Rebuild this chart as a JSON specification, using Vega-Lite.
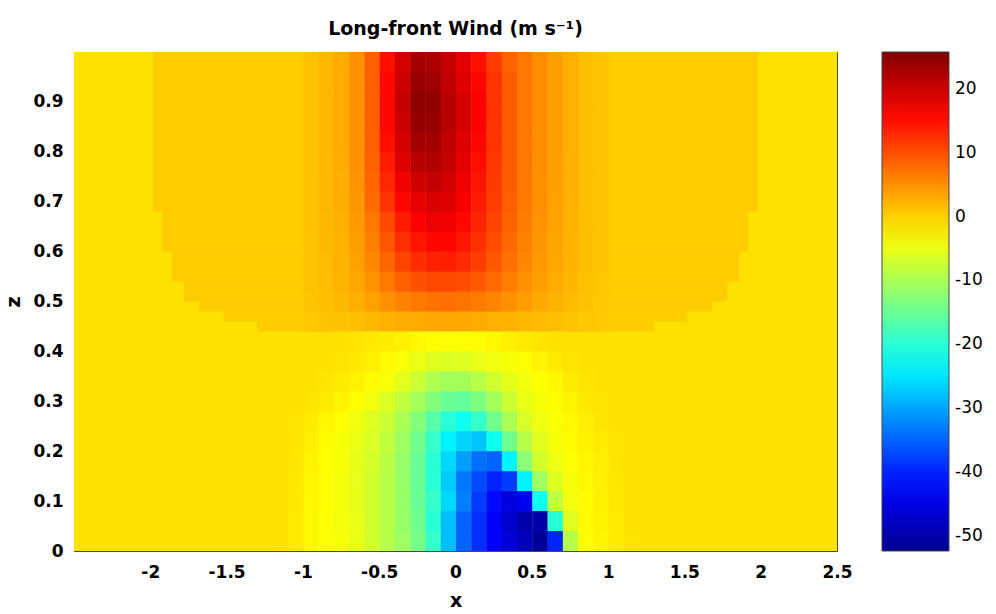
{
"$schema": "https://vega.github.io/schema/vega-lite/v6.json",
"autosize": {"type": "none"},
"padding": {"left": 74, "top": 52, "right": 159, "bottom": 63},
"width": 763,
"height": 499,
"background": "white",
"title": {"text": "Long-front Wind (m s⁻¹)", "font": "DejaVu Sans", "fontSize": 19, "fontWeight": "bold", "color": "#000", "anchor": "middle", "offset": -2, "baseline": "alphabetic"},
"config": {
 "view": {"stroke": "#4d4d33", "strokeWidth": 1},
 "axis": {"grid": false, "ticks": false, "tickSize": 0, "domain": false, "labelFlush": false, "labelOverlap": false, "labelFont": "DejaVu Sans", "labelFontSize": 17, "labelFontWeight": "bold", "labelColor": "#000", "titleFont": "DejaVu Sans", "titleFontSize": 19, "titleFontWeight": "bold", "titleColor": "#000"},
 "axisX": {"labelPadding": 13, "titlePadding": 11},
 "axisY": {"labelPadding": 11, "titlePadding": 9}
},
"datasets": {
"bg": [
{"x1":-2.5,"x2":2.5,"z1":0,"z2":1,"v":-1.2},
{"x1":-1.98,"x2":1.98,"z1":0.68,"z2":1,"v":0.4},
{"x1":-1.92,"x2":1.92,"z1":0.6,"z2":0.68,"v":0.4},
{"x1":-1.86,"x2":1.86,"z1":0.54,"z2":0.6,"v":0.4},
{"x1":-1.78,"x2":1.78,"z1":0.5,"z2":0.54,"v":0.4},
{"x1":-1.68,"x2":1.68,"z1":0.48,"z2":0.5,"v":0.4},
{"x1":-1.52,"x2":1.52,"z1":0.46,"z2":0.48,"v":0.4},
{"x1":-1.3,"x2":1.3,"z1":0.44,"z2":0.46,"v":0.4}
],
"cells": [
{"x":-1,"z":0.96,"v":1.2},{"x":-0.9,"z":0.96,"v":2},{"x":-0.8,"z":0.96,"v":3},{"x":-0.7,"z":0.96,"v":5},{"x":-0.6,"z":0.96,"v":8.8},{"x":-0.5,"z":0.96,"v":15},{"x":-0.4,"z":0.96,"v":19.5},{"x":-0.3,"z":0.96,"v":23},{"x":-0.2,"z":0.96,"v":22.5},{"x":-0.1,"z":0.96,"v":20.5},{"x":0,"z":0.96,"v":18},{"x":0.1,"z":0.96,"v":15},{"x":0.2,"z":0.96,"v":11.5},{"x":0.3,"z":0.96,"v":8.5},{"x":0.4,"z":0.96,"v":7},{"x":0.5,"z":0.96,"v":5.2},{"x":0.6,"z":0.96,"v":3.9},{"x":0.7,"z":0.96,"v":2.6},{"x":0.8,"z":0.96,"v":1.5},{"x":0.9,"z":0.96,"v":0.9},
{"x":-1,"z":0.92,"v":1.2},{"x":-0.9,"z":0.92,"v":2},{"x":-0.8,"z":0.92,"v":3},{"x":-0.7,"z":0.92,"v":5},{"x":-0.6,"z":0.92,"v":8.8},{"x":-0.5,"z":0.92,"v":15.5},{"x":-0.4,"z":0.92,"v":20},{"x":-0.3,"z":0.92,"v":24},{"x":-0.2,"z":0.92,"v":23.5},{"x":-0.1,"z":0.92,"v":21},{"x":0,"z":0.92,"v":18.5},{"x":0.1,"z":0.92,"v":15.5},{"x":0.2,"z":0.92,"v":12},{"x":0.3,"z":0.92,"v":9},{"x":0.4,"z":0.92,"v":7},{"x":0.5,"z":0.92,"v":5.2},{"x":0.6,"z":0.92,"v":3.9},{"x":0.7,"z":0.92,"v":2.6},{"x":0.8,"z":0.92,"v":1.5},{"x":0.9,"z":0.92,"v":0.9},
{"x":-1,"z":0.88,"v":1.2},{"x":-0.9,"z":0.88,"v":2},{"x":-0.8,"z":0.88,"v":3},{"x":-0.7,"z":0.88,"v":5},{"x":-0.6,"z":0.88,"v":8.8},{"x":-0.5,"z":0.88,"v":15.5},{"x":-0.4,"z":0.88,"v":20.5},{"x":-0.3,"z":0.88,"v":24.8},{"x":-0.2,"z":0.88,"v":24.3},{"x":-0.1,"z":0.88,"v":21.5},{"x":0,"z":0.88,"v":19},{"x":0.1,"z":0.88,"v":16},{"x":0.2,"z":0.88,"v":12},{"x":0.3,"z":0.88,"v":9},{"x":0.4,"z":0.88,"v":7},{"x":0.5,"z":0.88,"v":5.2},{"x":0.6,"z":0.88,"v":3.9},{"x":0.7,"z":0.88,"v":2.6},{"x":0.8,"z":0.88,"v":1.5},{"x":0.9,"z":0.88,"v":0.9},
{"x":-1,"z":0.84,"v":1.2},{"x":-0.9,"z":0.84,"v":2},{"x":-0.8,"z":0.84,"v":3},{"x":-0.7,"z":0.84,"v":5},{"x":-0.6,"z":0.84,"v":8.8},{"x":-0.5,"z":0.84,"v":15.5},{"x":-0.4,"z":0.84,"v":20},{"x":-0.3,"z":0.84,"v":24.3},{"x":-0.2,"z":0.84,"v":24},{"x":-0.1,"z":0.84,"v":21.5},{"x":0,"z":0.84,"v":19},{"x":0.1,"z":0.84,"v":16},{"x":0.2,"z":0.84,"v":12},{"x":0.3,"z":0.84,"v":9},{"x":0.4,"z":0.84,"v":7},{"x":0.5,"z":0.84,"v":5.2},{"x":0.6,"z":0.84,"v":3.9},{"x":0.7,"z":0.84,"v":2.6},{"x":0.8,"z":0.84,"v":1.5},{"x":0.9,"z":0.84,"v":0.9},
{"x":-1,"z":0.8,"v":1.2},{"x":-0.9,"z":0.8,"v":2},{"x":-0.8,"z":0.8,"v":3},{"x":-0.7,"z":0.8,"v":5},{"x":-0.6,"z":0.8,"v":8.8},{"x":-0.5,"z":0.8,"v":15},{"x":-0.4,"z":0.8,"v":19.5},{"x":-0.3,"z":0.8,"v":23},{"x":-0.2,"z":0.8,"v":23},{"x":-0.1,"z":0.8,"v":21},{"x":0,"z":0.8,"v":18.5},{"x":0.1,"z":0.8,"v":15.5},{"x":0.2,"z":0.8,"v":12},{"x":0.3,"z":0.8,"v":9},{"x":0.4,"z":0.8,"v":7},{"x":0.5,"z":0.8,"v":5.2},{"x":0.6,"z":0.8,"v":3.9},{"x":0.7,"z":0.8,"v":2.6},{"x":0.8,"z":0.8,"v":1.5},{"x":0.9,"z":0.8,"v":0.9},
{"x":-1,"z":0.76,"v":1.2},{"x":-0.9,"z":0.76,"v":2},{"x":-0.8,"z":0.76,"v":2.9},{"x":-0.7,"z":0.76,"v":5},{"x":-0.6,"z":0.76,"v":8.5},{"x":-0.5,"z":0.76,"v":14},{"x":-0.4,"z":0.76,"v":18.5},{"x":-0.3,"z":0.76,"v":21.5},{"x":-0.2,"z":0.76,"v":22},{"x":-0.1,"z":0.76,"v":20.5},{"x":0,"z":0.76,"v":18},{"x":0.1,"z":0.76,"v":15},{"x":0.2,"z":0.76,"v":11.8},{"x":0.3,"z":0.76,"v":9},{"x":0.4,"z":0.76,"v":6.9},{"x":0.5,"z":0.76,"v":5.1},{"x":0.6,"z":0.76,"v":3.8},{"x":0.7,"z":0.76,"v":2.6},{"x":0.8,"z":0.76,"v":1.5},{"x":0.9,"z":0.76,"v":0.9},
{"x":-1,"z":0.72,"v":1.2},{"x":-0.9,"z":0.72,"v":1.9},{"x":-0.8,"z":0.72,"v":2.8},{"x":-0.7,"z":0.72,"v":4.7},{"x":-0.6,"z":0.72,"v":8.2},{"x":-0.5,"z":0.72,"v":13},{"x":-0.4,"z":0.72,"v":17},{"x":-0.3,"z":0.72,"v":19.8},{"x":-0.2,"z":0.72,"v":20.5},{"x":-0.1,"z":0.72,"v":19.5},{"x":0,"z":0.72,"v":17},{"x":0.1,"z":0.72,"v":14.5},{"x":0.2,"z":0.72,"v":11.6},{"x":0.3,"z":0.72,"v":9},{"x":0.4,"z":0.72,"v":6.9},{"x":0.5,"z":0.72,"v":5},{"x":0.6,"z":0.72,"v":3.8},{"x":0.7,"z":0.72,"v":2.6},{"x":0.8,"z":0.72,"v":1.5},{"x":0.9,"z":0.72,"v":0.9},
{"x":-1,"z":0.68,"v":1.2},{"x":-0.9,"z":0.68,"v":1.9},{"x":-0.8,"z":0.68,"v":2.7},{"x":-0.7,"z":0.68,"v":4.5},{"x":-0.6,"z":0.68,"v":7.8},{"x":-0.5,"z":0.68,"v":12},{"x":-0.4,"z":0.68,"v":15.5},{"x":-0.3,"z":0.68,"v":17.8},{"x":-0.2,"z":0.68,"v":18.8},{"x":-0.1,"z":0.68,"v":18.3},{"x":0,"z":0.68,"v":16.5},{"x":0.1,"z":0.68,"v":14},{"x":0.2,"z":0.68,"v":11.3},{"x":0.3,"z":0.68,"v":8.8},{"x":0.4,"z":0.68,"v":6.8},{"x":0.5,"z":0.68,"v":5},{"x":0.6,"z":0.68,"v":3.7},{"x":0.7,"z":0.68,"v":2.6},{"x":0.8,"z":0.68,"v":1.5},{"x":0.9,"z":0.68,"v":0.9},
{"x":-1,"z":0.64,"v":1.2},{"x":-0.9,"z":0.64,"v":1.8},{"x":-0.8,"z":0.64,"v":2.6},{"x":-0.7,"z":0.64,"v":4.2},{"x":-0.6,"z":0.64,"v":7},{"x":-0.5,"z":0.64,"v":10.5},{"x":-0.4,"z":0.64,"v":14},{"x":-0.3,"z":0.64,"v":16.3},{"x":-0.2,"z":0.64,"v":17.3},{"x":-0.1,"z":0.64,"v":17},{"x":0,"z":0.64,"v":15.5},{"x":0.1,"z":0.64,"v":13.3},{"x":0.2,"z":0.64,"v":10.8},{"x":0.3,"z":0.64,"v":8.4},{"x":0.4,"z":0.64,"v":6.5},{"x":0.5,"z":0.64,"v":4.8},{"x":0.6,"z":0.64,"v":3.6},{"x":0.7,"z":0.64,"v":2.5},{"x":0.8,"z":0.64,"v":1.5},{"x":0.9,"z":0.64,"v":0.9},
{"x":-1,"z":0.6,"v":1.1},{"x":-0.9,"z":0.6,"v":1.8},{"x":-0.8,"z":0.6,"v":2.5},{"x":-0.7,"z":0.6,"v":3.9},{"x":-0.6,"z":0.6,"v":6.3},{"x":-0.5,"z":0.6,"v":9.5},{"x":-0.4,"z":0.6,"v":12.5},{"x":-0.3,"z":0.6,"v":14.5},{"x":-0.2,"z":0.6,"v":15.5},{"x":-0.1,"z":0.6,"v":15.5},{"x":0,"z":0.6,"v":14.3},{"x":0.1,"z":0.6,"v":12.4},{"x":0.2,"z":0.6,"v":10.1},{"x":0.3,"z":0.6,"v":8},{"x":0.4,"z":0.6,"v":6.1},{"x":0.5,"z":0.6,"v":4.6},{"x":0.6,"z":0.6,"v":3.4},{"x":0.7,"z":0.6,"v":2.4},{"x":0.8,"z":0.6,"v":1.4},{"x":0.9,"z":0.6,"v":0.9},
{"x":-1,"z":0.56,"v":1.1},{"x":-0.9,"z":0.56,"v":1.7},{"x":-0.8,"z":0.56,"v":2.4},{"x":-0.7,"z":0.56,"v":3.6},{"x":-0.6,"z":0.56,"v":5.6},{"x":-0.5,"z":0.56,"v":8.3},{"x":-0.4,"z":0.56,"v":10.8},{"x":-0.3,"z":0.56,"v":12.6},{"x":-0.2,"z":0.56,"v":13.5},{"x":-0.1,"z":0.56,"v":13.6},{"x":0,"z":0.56,"v":12.8},{"x":0.1,"z":0.56,"v":11.3},{"x":0.2,"z":0.56,"v":9.3},{"x":0.3,"z":0.56,"v":7.4},{"x":0.4,"z":0.56,"v":5.7},{"x":0.5,"z":0.56,"v":4.3},{"x":0.6,"z":0.56,"v":3.2},{"x":0.7,"z":0.56,"v":2.3},{"x":0.8,"z":0.56,"v":1.4},{"x":0.9,"z":0.56,"v":0.9},
{"x":-1,"z":0.52,"v":1},{"x":-0.9,"z":0.52,"v":1.6},{"x":-0.8,"z":0.52,"v":2.2},{"x":-0.7,"z":0.52,"v":3.2},{"x":-0.6,"z":0.52,"v":4.8},{"x":-0.5,"z":0.52,"v":6.8},{"x":-0.4,"z":0.52,"v":8.6},{"x":-0.3,"z":0.52,"v":9.9},{"x":-0.2,"z":0.52,"v":10.5},{"x":-0.1,"z":0.52,"v":10.6},{"x":0,"z":0.52,"v":10.1},{"x":0.1,"z":0.52,"v":9.2},{"x":0.2,"z":0.52,"v":7.8},{"x":0.3,"z":0.52,"v":6.4},{"x":0.4,"z":0.52,"v":5},{"x":0.5,"z":0.52,"v":3.9},{"x":0.6,"z":0.52,"v":2.9},{"x":0.7,"z":0.52,"v":2.1},{"x":0.8,"z":0.52,"v":1.3},{"x":0.9,"z":0.52,"v":0.8},
{"x":-1,"z":0.48,"v":0.9},{"x":-0.9,"z":0.48,"v":1.4},{"x":-0.8,"z":0.48,"v":1.9},{"x":-0.7,"z":0.48,"v":2.6},{"x":-0.6,"z":0.48,"v":3.7},{"x":-0.5,"z":0.48,"v":4.9},{"x":-0.4,"z":0.48,"v":6},{"x":-0.3,"z":0.48,"v":6.8},{"x":-0.2,"z":0.48,"v":7.3},{"x":-0.1,"z":0.48,"v":7.4},{"x":0,"z":0.48,"v":7.2},{"x":0.1,"z":0.48,"v":6.7},{"x":0.2,"z":0.48,"v":5.9},{"x":0.3,"z":0.48,"v":5},{"x":0.4,"z":0.48,"v":4},{"x":0.5,"z":0.48,"v":3.1},{"x":0.6,"z":0.48,"v":2.4},{"x":0.7,"z":0.48,"v":1.7},{"x":0.8,"z":0.48,"v":1.2},{"x":0.9,"z":0.48,"v":0.7},
{"x":-1,"z":0.44,"v":0.6},{"x":-0.9,"z":0.44,"v":0.9},{"x":-0.8,"z":0.44,"v":1.2},{"x":-0.7,"z":0.44,"v":1.5},{"x":-0.6,"z":0.44,"v":1.9},{"x":-0.5,"z":0.44,"v":2.3},{"x":-0.4,"z":0.44,"v":2.7},{"x":-0.3,"z":0.44,"v":3},{"x":-0.2,"z":0.44,"v":3.2},{"x":-0.1,"z":0.44,"v":3.2},{"x":0,"z":0.44,"v":3.1},{"x":0.1,"z":0.44,"v":2.9},{"x":0.2,"z":0.44,"v":2.6},{"x":0.3,"z":0.44,"v":2.3},{"x":0.4,"z":0.44,"v":2},{"x":0.5,"z":0.44,"v":1.7},{"x":0.6,"z":0.44,"v":1.4},{"x":0.7,"z":0.44,"v":1.1},{"x":0.8,"z":0.44,"v":0.8},{"x":0.9,"z":0.44,"v":0.5},
{"x":-0.8,"z":0.4,"v":-1.3},{"x":-0.7,"z":0.4,"v":-1.5},{"x":-0.6,"z":0.4,"v":-1.8},{"x":-0.5,"z":0.4,"v":-2.1},{"x":-0.4,"z":0.4,"v":-2.4},{"x":-0.3,"z":0.4,"v":-3},{"x":-0.2,"z":0.4,"v":-3.5},{"x":-0.1,"z":0.4,"v":-3.7},{"x":0,"z":0.4,"v":-3.7},{"x":0.1,"z":0.4,"v":-3.4},{"x":0.2,"z":0.4,"v":-2.9},{"x":0.3,"z":0.4,"v":-2.4},{"x":0.4,"z":0.4,"v":-1.9},{"x":0.5,"z":0.4,"v":-1.5},{"x":0.6,"z":0.4,"v":-1.3},
{"x":-0.9,"z":0.36,"v":-1.3},{"x":-0.8,"z":0.36,"v":-1.4},{"x":-0.7,"z":0.36,"v":-1.8},{"x":-0.6,"z":0.36,"v":-2.4},{"x":-0.5,"z":0.36,"v":-3.2},{"x":-0.4,"z":0.36,"v":-4},{"x":-0.3,"z":0.36,"v":-5},{"x":-0.2,"z":0.36,"v":-5.8},{"x":-0.1,"z":0.36,"v":-6.2},{"x":0,"z":0.36,"v":-6},{"x":0.1,"z":0.36,"v":-5.3},{"x":0.2,"z":0.36,"v":-4.6},{"x":0.3,"z":0.36,"v":-4.2},{"x":0.4,"z":0.36,"v":-3.4},{"x":0.5,"z":0.36,"v":-2.6},{"x":0.6,"z":0.36,"v":-1.9},{"x":0.7,"z":0.36,"v":-1.4},
{"x":-1,"z":0.32,"v":-1.3},{"x":-0.9,"z":0.32,"v":-1.6},{"x":-0.8,"z":0.32,"v":-2},{"x":-0.7,"z":0.32,"v":-2.6},{"x":-0.6,"z":0.32,"v":-3.2},{"x":-0.5,"z":0.32,"v":-4},{"x":-0.4,"z":0.32,"v":-5.5},{"x":-0.3,"z":0.32,"v":-7.5},{"x":-0.2,"z":0.32,"v":-9.5},{"x":-0.1,"z":0.32,"v":-10.5},{"x":0,"z":0.32,"v":-10.5},{"x":0.1,"z":0.32,"v":-9},{"x":0.2,"z":0.32,"v":-7},{"x":0.3,"z":0.32,"v":-5.4},{"x":0.4,"z":0.32,"v":-4.4},{"x":0.5,"z":0.32,"v":-3.6},{"x":0.6,"z":0.32,"v":-2.8},{"x":0.7,"z":0.32,"v":-2},{"x":0.8,"z":0.32,"v":-1.4},
{"x":-1.1,"z":0.28,"v":-1.3},{"x":-1,"z":0.28,"v":-1.6},{"x":-0.9,"z":0.28,"v":-2},{"x":-0.8,"z":0.28,"v":-2.6},{"x":-0.7,"z":0.28,"v":-3.4},{"x":-0.6,"z":0.28,"v":-4.6},{"x":-0.5,"z":0.28,"v":-6.3},{"x":-0.4,"z":0.28,"v":-8.3},{"x":-0.3,"z":0.28,"v":-10.5},{"x":-0.2,"z":0.28,"v":-13},{"x":-0.1,"z":0.28,"v":-15},{"x":0,"z":0.28,"v":-15.5},{"x":0.1,"z":0.28,"v":-13.5},{"x":0.2,"z":0.28,"v":-10.5},{"x":0.3,"z":0.28,"v":-7.5},{"x":0.4,"z":0.28,"v":-5.2},{"x":0.5,"z":0.28,"v":-4.2},{"x":0.6,"z":0.28,"v":-3.4},{"x":0.7,"z":0.28,"v":-2.6},{"x":0.8,"z":0.28,"v":-1.8},{"x":0.9,"z":0.28,"v":-1.4},
{"x":-1.1,"z":0.24,"v":-1.4},{"x":-1,"z":0.24,"v":-2},{"x":-0.9,"z":0.24,"v":-2.8},{"x":-0.8,"z":0.24,"v":-3.5},{"x":-0.7,"z":0.24,"v":-4.6},{"x":-0.6,"z":0.24,"v":-6},{"x":-0.5,"z":0.24,"v":-7.6},{"x":-0.4,"z":0.24,"v":-10},{"x":-0.3,"z":0.24,"v":-13},{"x":-0.2,"z":0.24,"v":-16.5},{"x":-0.1,"z":0.24,"v":-20},{"x":0,"z":0.24,"v":-22},{"x":0.1,"z":0.24,"v":-19},{"x":0.2,"z":0.24,"v":-14.5},{"x":0.3,"z":0.24,"v":-10},{"x":0.4,"z":0.24,"v":-6.5},{"x":0.5,"z":0.24,"v":-4.8},{"x":0.6,"z":0.24,"v":-3.8},{"x":0.7,"z":0.24,"v":-3},{"x":0.8,"z":0.24,"v":-2.2},{"x":0.9,"z":0.24,"v":-1.6},{"x":1,"z":0.24,"v":-1.3},
{"x":-1.1,"z":0.2,"v":-1.6},{"x":-1,"z":0.2,"v":-2.3},{"x":-0.9,"z":0.2,"v":-3.3},{"x":-0.8,"z":0.2,"v":-4.1},{"x":-0.7,"z":0.2,"v":-5.2},{"x":-0.6,"z":0.2,"v":-6.5},{"x":-0.5,"z":0.2,"v":-8.3},{"x":-0.4,"z":0.2,"v":-11},{"x":-0.3,"z":0.2,"v":-14.5},{"x":-0.2,"z":0.2,"v":-19},{"x":-0.1,"z":0.2,"v":-24},{"x":0,"z":0.2,"v":-26.5},{"x":0.1,"z":0.2,"v":-27.5},{"x":0.2,"z":0.2,"v":-22},{"x":0.3,"z":0.2,"v":-14.5},{"x":0.4,"z":0.2,"v":-9},{"x":0.5,"z":0.2,"v":-5.8},{"x":0.6,"z":0.2,"v":-4.3},{"x":0.7,"z":0.2,"v":-3.3},{"x":0.8,"z":0.2,"v":-2.5},{"x":0.9,"z":0.2,"v":-1.9},{"x":1,"z":0.2,"v":-1.4},
{"x":-1.2,"z":0.16,"v":-1.3},{"x":-1.1,"z":0.16,"v":-1.7},{"x":-1,"z":0.16,"v":-2.6},{"x":-0.9,"z":0.16,"v":-3.5},{"x":-0.8,"z":0.16,"v":-4.3},{"x":-0.7,"z":0.16,"v":-5.4},{"x":-0.6,"z":0.16,"v":-6.8},{"x":-0.5,"z":0.16,"v":-8.8},{"x":-0.4,"z":0.16,"v":-11.5},{"x":-0.3,"z":0.16,"v":-15},{"x":-0.2,"z":0.16,"v":-20},{"x":-0.1,"z":0.16,"v":-26},{"x":0,"z":0.16,"v":-30.5},{"x":0.1,"z":0.16,"v":-34},{"x":0.2,"z":0.16,"v":-35},{"x":0.3,"z":0.16,"v":-24},{"x":0.4,"z":0.16,"v":-12.5},{"x":0.5,"z":0.16,"v":-7},{"x":0.6,"z":0.16,"v":-4.8},{"x":0.7,"z":0.16,"v":-3.6},{"x":0.8,"z":0.16,"v":-2.8},{"x":0.9,"z":0.16,"v":-2.2},{"x":1,"z":0.16,"v":-1.6},{"x":1.1,"z":0.16,"v":-1.3},
{"x":-1.2,"z":0.12,"v":-1.3},{"x":-1.1,"z":0.12,"v":-1.8},{"x":-1,"z":0.12,"v":-2.8},{"x":-0.9,"z":0.12,"v":-3.6},{"x":-0.8,"z":0.12,"v":-4.4},{"x":-0.7,"z":0.12,"v":-5.5},{"x":-0.6,"z":0.12,"v":-7},{"x":-0.5,"z":0.12,"v":-9},{"x":-0.4,"z":0.12,"v":-11.5},{"x":-0.3,"z":0.12,"v":-15},{"x":-0.2,"z":0.12,"v":-20},{"x":-0.1,"z":0.12,"v":-27},{"x":0,"z":0.12,"v":-33.5},{"x":0.1,"z":0.12,"v":-37},{"x":0.2,"z":0.12,"v":-40},{"x":0.3,"z":0.12,"v":-38},{"x":0.4,"z":0.12,"v":-24},{"x":0.5,"z":0.12,"v":-11},{"x":0.6,"z":0.12,"v":-6},{"x":0.7,"z":0.12,"v":-4.1},{"x":0.8,"z":0.12,"v":-3},{"x":0.9,"z":0.12,"v":-2.3},{"x":1,"z":0.12,"v":-1.7},{"x":1.1,"z":0.12,"v":-1.3},
{"x":-1.2,"z":0.08,"v":-1.3},{"x":-1.1,"z":0.08,"v":-1.8},{"x":-1,"z":0.08,"v":-2.9},{"x":-0.9,"z":0.08,"v":-3.6},{"x":-0.8,"z":0.08,"v":-4.4},{"x":-0.7,"z":0.08,"v":-5.4},{"x":-0.6,"z":0.08,"v":-7},{"x":-0.5,"z":0.08,"v":-9},{"x":-0.4,"z":0.08,"v":-11.5},{"x":-0.3,"z":0.08,"v":-15},{"x":-0.2,"z":0.08,"v":-19},{"x":-0.1,"z":0.08,"v":-26},{"x":0,"z":0.08,"v":-33},{"x":0.1,"z":0.08,"v":-38},{"x":0.2,"z":0.08,"v":-42},{"x":0.3,"z":0.08,"v":-45.5},{"x":0.4,"z":0.08,"v":-44},{"x":0.5,"z":0.08,"v":-22},{"x":0.6,"z":0.08,"v":-8.5},{"x":0.7,"z":0.08,"v":-4.6},{"x":0.8,"z":0.08,"v":-3.2},{"x":0.9,"z":0.08,"v":-2.5},{"x":1,"z":0.08,"v":-1.8},{"x":1.1,"z":0.08,"v":-1.3},
{"x":-1.2,"z":0.04,"v":-1.3},{"x":-1.1,"z":0.04,"v":-1.9},{"x":-1,"z":0.04,"v":-3},{"x":-0.9,"z":0.04,"v":-3.7},{"x":-0.8,"z":0.04,"v":-4.4},{"x":-0.7,"z":0.04,"v":-5.3},{"x":-0.6,"z":0.04,"v":-7},{"x":-0.5,"z":0.04,"v":-9},{"x":-0.4,"z":0.04,"v":-11.5},{"x":-0.3,"z":0.04,"v":-14.5},{"x":-0.2,"z":0.04,"v":-20},{"x":-0.1,"z":0.04,"v":-28},{"x":0,"z":0.04,"v":-35},{"x":0.1,"z":0.04,"v":-39},{"x":0.2,"z":0.04,"v":-43},{"x":0.3,"z":0.04,"v":-47},{"x":0.4,"z":0.04,"v":-50},{"x":0.5,"z":0.04,"v":-50},{"x":0.6,"z":0.04,"v":-20},{"x":0.7,"z":0.04,"v":-6},{"x":0.8,"z":0.04,"v":-3.3},{"x":0.9,"z":0.04,"v":-2.6},{"x":1,"z":0.04,"v":-1.9},{"x":1.1,"z":0.04,"v":-1.3},
{"x":-1.2,"z":0,"v":-1.3},{"x":-1.1,"z":0,"v":-1.9},{"x":-1,"z":0,"v":-3},{"x":-0.9,"z":0,"v":-3.7},{"x":-0.8,"z":0,"v":-4.3},{"x":-0.7,"z":0,"v":-5.2},{"x":-0.6,"z":0,"v":-7},{"x":-0.5,"z":0,"v":-9},{"x":-0.4,"z":0,"v":-11},{"x":-0.3,"z":0,"v":-14},{"x":-0.2,"z":0,"v":-19},{"x":-0.1,"z":0,"v":-28},{"x":0,"z":0,"v":-35},{"x":0.1,"z":0,"v":-39},{"x":0.2,"z":0,"v":-43},{"x":0.3,"z":0,"v":-46},{"x":0.4,"z":0,"v":-48.5},{"x":0.5,"z":0,"v":-51.5},{"x":0.6,"z":0,"v":-40},{"x":0.7,"z":0,"v":-9},{"x":0.8,"z":0,"v":-3.4},{"x":0.9,"z":0,"v":-2.7},{"x":1,"z":0,"v":-2},{"x":1.1,"z":0,"v":-1.4}
]
},
"layer": [
 {
  "data": {"name": "bg"},
  "mark": {"type": "rect", "clip": true},
  "encoding": {
   "x": {"field": "x1", "type": "quantitative", "scale": {"domain": [-2.5, 2.5], "nice": false, "zero": false}, "axis": {"title": "x", "values": [-2, -1.5, -1, -0.5, 0, 0.5, 1, 1.5, 2, 2.5], "labelExpr": "'' + datum.value"}},
   "x2": {"field": "x2"},
   "y": {"field": "z1", "type": "quantitative", "scale": {"domain": [0, 1], "nice": false, "zero": false}, "axis": {"title": "z", "values": [0, 0.1, 0.2, 0.3, 0.4, 0.5, 0.6, 0.7, 0.8, 0.9], "labelExpr": "'' + datum.value"}},
   "y2": {"field": "z2"},
   "color": {"field": "v", "type": "quantitative",
    "scale": {"domain": [-52.4, -42.6, -23.1, -3.5, 16, 25.8], "range": ["#00008f", "#0000ff", "#00ffff", "#ffff00", "#ff0000", "#800000"], "interpolate": "rgb"},
    "legend": {"type": "gradient", "orient": "none", "legendX": 808, "legendY": 0, "direction": "vertical", "title": null, "gradientLength": 499, "gradientThickness": 67, "gradientStrokeColor": "#444444", "gradientStrokeWidth": 1, "values": [-50, -40, -30, -20, -10, 0, 10, 20], "labelFont": "DejaVu Sans", "labelFontSize": 17, "labelColor": "#000", "labelOffset": 6, "labelOverlap": false, "labelExpr": "'' + datum.value"}}
  }
 },
 {
  "data": {"name": "cells"},
  "mark": {"type": "rect", "clip": true, "binSpacing": 0},
  "encoding": {
   "x": {"field": "x", "type": "quantitative", "bin": {"binned": true, "step": 0.102}, "scale": {"domain": [-2.5, 2.5], "nice": false, "zero": false}, "axis": {"title": "x", "values": [-2, -1.5, -1, -0.5, 0, 0.5, 1, 1.5, 2, 2.5], "labelExpr": "'' + datum.value"}},
   "y": {"field": "z", "type": "quantitative", "bin": {"binned": true, "step": 0.041}, "scale": {"domain": [0, 1], "nice": false, "zero": false}, "axis": {"title": "z", "values": [0, 0.1, 0.2, 0.3, 0.4, 0.5, 0.6, 0.7, 0.8, 0.9], "labelExpr": "'' + datum.value"}},
   "color": {"field": "v", "type": "quantitative",
    "scale": {"domain": [-52.4, -42.6, -23.1, -3.5, 16, 25.8], "range": ["#00008f", "#0000ff", "#00ffff", "#ffff00", "#ff0000", "#800000"], "interpolate": "rgb"}}
  }
 }
]
}
